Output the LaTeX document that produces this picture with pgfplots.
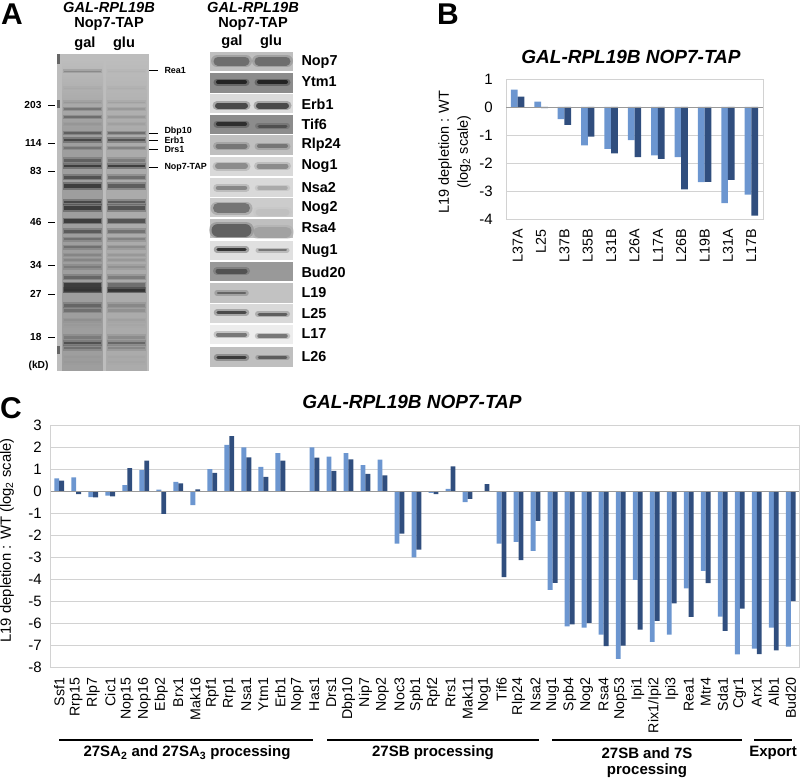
\documentclass[border=0pt]{standalone}
\usepackage{fontspec}
\setmainfont{Liberation Sans}
\usepackage{pgfplots}
\usepackage{pgfplotstable}
\pgfplotsset{compat=1.18}

\definecolor{lightbar}{HTML}{6C96D0}
\definecolor{darkbar}{HTML}{304E7E}
\definecolor{gridc}{HTML}{D2D2D2}

\newcommand\fs[1]{\fontsize{#1}{19}\selectfont}

% panel B, ribosomal proteins
\pgfplotstableread{
name a b
L37A 0.62 0.37
L25 0.19 -0.04
L37B -0.43 -0.64
L35B -1.37 -1.06
L31B -1.50 -1.66
L26A -1.18 -1.79
L17A -1.73 -1.85
L26B -1.79 -2.94
L19B -2.68 -2.67
L31A -3.43 -2.60
L17B -3.13 -3.88
}\tabB

% panel C, assembly factors
\pgfplotstableread{
name a b
Ssf1 0.58 0.48
Rrp15 0.63 -0.13
Rlp7 -0.27 -0.28
Cic1 -0.20 -0.24
Nop15 0.28 1.05
Nop16 0.95 1.38
Ebp2 0.07 -1.03
Brx1 0.42 0.35
Mak16 -0.63 0.08
Rpf1 1.00 0.83
Rrp1 2.10 2.50
Nsa1 1.98 1.53
Ytm1 1.10 0.65
Erb1 1.72 1.38
Nop7 0 0
Has1 1.98 1.52
Drs1 1.57 0.92
Dbp10 1.72 1.44
Nip7 1.18 0.79
Nop2 1.43 0.72
Noc3 -2.38 -1.92
Spb1 -3.00 -2.65
Rpf2 -0.08 -0.13
Rrs1 0.10 1.12
Mak11 -0.50 -0.35
Nog1 0 0.32
Tif6 -2.38 -3.90
Rlp24 -2.30 -3.13
Nsa2 -2.70 -1.35
Nug1 -4.47 -4.15
Spb4 -6.13 -6.04
Nog2 -6.18 -5.97
Rsa4 -6.50 -7.02
Nop53 -7.60 -7.00
Ipi1 -4.02 -6.28
Rix1/Ipi2 -6.83 -5.88
Ipi3 -6.50 -5.08
Rea1 -4.41 -5.70
Mtr4 -3.61 -4.17
Sda1 -5.68 -6.33
Cgr1 -7.40 -5.32
Arx1 -7.13 -7.39
Alb1 -6.18 -7.22
Bud20 -7.04 -4.98
}\tabC

% y, width, darkness in gal lane, darkness in glu lane
\newcommand\gband[4]{%
  \addplot[forget plot,draw=black!#3,opacity=.35,line width=#2pt+3pt] coordinates {(63,#1)(102,#1)};
  \addplot[forget plot,draw=black!#3,opacity=.7,line width=#2pt] coordinates {(64,#1)(101,#1)};
  \addplot[forget plot,draw=black!#4,opacity=.35,line width=#2pt+3pt] coordinates {(107,#1)(146,#1)};
  \addplot[forget plot,draw=black!#4,opacity=.7,line width=#2pt] coordinates {(108,#1)(145,#1)};
}
% top, bottom, background, then y/width/darkness for gal and for glu
\newcommand\blot[9]{%
  \addplot[forget plot,fill=black!#3,draw=none] coordinates {(210,#1)(293,#1)(293,#2)(210,#2)} -- cycle;
  \addplot[forget plot,draw=black!#6,opacity=.3,line width=#5pt+3pt,line cap=round] coordinates {(217,#4)(246,#4)};
  \addplot[forget plot,draw=black!#6,opacity=.8,line width=#5pt,line cap=round] coordinates {(218,#4)(245,#4)};
  \addplot[forget plot,draw=black!#9,opacity=.3,line width=#8pt+3pt,line cap=round] coordinates {(258,#7)(287,#7)};
  \addplot[forget plot,draw=black!#9,opacity=.8,line width=#8pt,line cap=round] coordinates {(259,#7)(286,#7)};
}

\begin{document}
\begin{tikzpicture}
\useasboundingbox (0,0) rectangle (800pt,779pt);

% everything of panel A and the loose text, in picture pixels
\begin{axis}[
    at={(0,0)}, anchor=south west,
    scale only axis, width=800pt, height=779pt,
    xmin=0, xmax=800, ymin=0, ymax=779, y dir=reverse,
    hide axis, clip=false,
    every node/.style={inner sep=0pt},
  ]
  % gel
  \addplot[forget plot,fill=black!26,draw=none] coordinates {(57,54)(149,54)(149,371)(57,371)} -- cycle;
  \addplot[forget plot,top color=black!26,bottom color=black!38,draw=none] coordinates {(62,60)(103,60)(103,130)(62,130)} -- cycle;
  \addplot[forget plot,fill=black!38,draw=none] coordinates {(62,130)(103,130)(103,371)(62,371)} -- cycle;
  \addplot[forget plot,top color=black!26,bottom color=black!33,draw=none] coordinates {(106,60)(147,60)(147,130)(106,130)} -- cycle;
  \addplot[forget plot,fill=black!33,draw=none] coordinates {(106,130)(147,130)(147,371)(106,371)} -- cycle;
  \addplot[forget plot,fill=black!60,draw=none] coordinates {(57,54)(59.5,54)(59.5,64)(57,64)} -- cycle;
  \addplot[forget plot,fill=black!60,draw=none] coordinates {(57,100)(59.5,100)(59.5,108)(57,108)} -- cycle;
  \addplot[forget plot,fill=black!60,draw=none] coordinates {(57,346)(59.5,346)(59.5,354)(57,354)} -- cycle;
  \gband{71}{0.7}{50}{30}
  \gband{88}{1}{34}{32}
  \gband{102}{1}{42}{38}
  \gband{109}{1.2}{58}{42}
  \gband{117}{1.5}{62}{42}
  \gband{124}{1.2}{42}{38}
  \gband{133}{1.6}{68}{62}
  \gband{140}{2.5}{80}{75}
  \gband{148}{1.5}{58}{52}
  \gband{160}{3}{68}{55}
  \gband{166}{2.5}{85}{85}
  \gband{177}{3}{75}{62}
  \gband{186}{4.5}{85}{70}
  \gband{202}{2.5}{80}{70}
  \gband{208}{4.5}{85}{75}
  \gband{221}{3.5}{85}{75}
  \gband{231}{3}{70}{60}
  \gband{239}{2}{60}{52}
  \gband{247}{2}{60}{48}
  \gband{255}{1.5}{50}{42}
  \gband{260}{1.5}{50}{42}
  \gband{267}{2.5}{55}{45}
  \gband{277}{3}{65}{55}
  \gband{287}{8}{85}{62}
  \gband{290}{3}{80}{85}
  \gband{305}{3}{65}{50}
  \gband{310}{3}{60}{45}
  \gband{320}{2}{45}{38}
  \gband{325}{2}{40}{35}
  \gband{337}{3}{55}{48}
  \gband{343}{2.5}{75}{65}
  \gband{348}{2.5}{60}{50}
  \gband{357}{2}{40}{35}
  \gband{362}{2}{40}{35}

  % size marks and gel callouts
  \foreach \lab/\yy in {203/105,114/143,83/171,46/222,34/265,27/294,18/337}{
    \edef\tmp{\noexpand\node[anchor=east,font=\noexpand\fs{10.2}\noexpand\bfseries] at (axis cs:45,\yy) {\lab};
      \noexpand\draw[black,line width=0.9pt] (axis cs:48,\yy) -- (axis cs:55,\yy);}
    \tmp
  }
  \node[anchor=east,font=\fs{10.2}\bfseries] at (axis cs:52,366) {(kD)};
  \foreach \lab/\yy/\ly in {Rea1/70.5/70,Dbp10/133/131,Erb1/140/140,Drs1/149/149,Nop7-TAP/167/167}{
    \edef\tmp{\noexpand\draw[black,line width=0.9pt] (axis cs:149,\yy) -- (axis cs:158,\yy);
      \noexpand\node[anchor=west,font=\noexpand\fs{8.9}\noexpand\bfseries] at (axis cs:161,\ly) {\lab};}
    \tmp
  }

  % western blots
  \blot{51.7}{70.7}{25}{61}{9}{62}{61}{9}{62}
  \blot{72.7}{92.7}{45}{82}{4}{92}{82}{4}{92}
  \blot{94}{113.3}{14}{105.5}{6}{80}{105.5}{6}{80}
  \blot{115}{134}{45}{124}{4}{88}{126}{3}{72}
  \blot{135.3}{154.7}{25}{146}{5}{58}{146}{4}{58}
  \blot{156.7}{176}{15}{166}{6}{50}{166}{5}{50}
  \blot{178.3}{196.7}{15}{188}{4.5}{52}{188}{3.5}{36}
  \blot{198.3}{217.3}{20}{208}{10}{60}{212}{7}{25}
  \blot{218.7}{238}{25}{230}{13}{68}{232}{11}{38}
  \blot{240.7}{260}{12}{249.5}{3.5}{90}{250}{2}{60}
  \blot{262}{281.3}{40}{271}{5}{72}{271}{0.1}{40}
  \blot{283.3}{302.7}{24}{293}{2.5}{66}{293}{0.1}{24}
  \blot{304}{323.3}{15}{312.5}{3.5}{80}{314}{3}{70}
  \blot{324.7}{344}{7}{334.5}{4}{60}{336}{3.5}{60}
  \blot{347.3}{366.7}{25}{357.5}{3.5}{85}{357.5}{2.5}{70}
  \foreach \lab/\yy in {Nop7/62,Ytm1/82,Erb1/104,Tif6/124,Rlp24/145,Nog1/166,Nsa2/188,Nog2/208,Rsa4/228,Nug1/251,Bud20/272,L19/293,L25/314,L17/334,L26/357}{
    \edef\tmp{\noexpand\node[anchor=west,font=\noexpand\fs{14.4}\noexpand\bfseries] at (axis cs:298,\yy) {\lab};}
    \tmp
  }

  % headers of panel A
  \node[font=\fs{14.6}\bfseries\itshape] at (axis cs:109,7) {GAL-RPL19B};
  \node[font=\fs{14.6}\bfseries] at (axis cs:109,24) {Nop7-TAP};
  \node[font=\fs{14.6}\bfseries] at (axis cs:85,44) {gal};
  \node[font=\fs{14.6}\bfseries] at (axis cs:124,44) {glu};
  \node[font=\fs{14.6}\bfseries\itshape] at (axis cs:253,7) {GAL-RPL19B};
  \node[font=\fs{14.6}\bfseries] at (axis cs:253,24) {Nop7-TAP};
  \node[font=\fs{14.6}\bfseries] at (axis cs:232,42) {gal};
  \node[font=\fs{14.6}\bfseries] at (axis cs:271,42) {glu};

  % panel letters
  \node[anchor=center,font=\fs{30}\bfseries] at (axis cs:12,14) {A};
  \node[anchor=center,font=\fs{30}\bfseries] at (axis cs:448,14) {B};
  \node[anchor=center,font=\fs{30}\bfseries] at (axis cs:11,408) {C};

  % titles
  \node[font=\fs{19}\bfseries\itshape] at (axis cs:631,57) {GAL-RPL19B NOP7-TAP};
  \node[font=\fs{19}\bfseries\itshape] at (axis cs:412,402) {GAL-RPL19B NOP7-TAP};

  % groups under panel C
  \draw[black,line width=1.3pt] (axis cs:59,740) -- (axis cs:313,740);
  \draw[black,line width=1.3pt] (axis cs:327,740) -- (axis cs:539,740);
  \draw[black,line width=1.3pt] (axis cs:552,740) -- (axis cs:742,740);
  \draw[black,line width=1.3pt] (axis cs:754,740) -- (axis cs:792,740);
  \node[font=\fs{15}\bfseries] at (axis cs:187,753) {27SA\textsubscript{2} and 27SA\textsubscript{3} processing};
  \node[font=\fs{15}\bfseries] at (axis cs:433,753) {27SB processing};
  \node[font=\fs{15}\bfseries] at (axis cs:647,753) {27SB and 7S};
  \node[font=\fs{15}\bfseries] at (axis cs:647,771) {processing};
  \node[font=\fs{15}\bfseries] at (axis cs:773,753) {Export};
\end{axis}

% panel B
\begin{axis}[
    at={(506pt,560pt)}, anchor=south west,
    scale only axis, width=257pt, height=140pt,
    ybar=0pt, bar width=6.7pt,
    xmin=-0.5, xmax=10.5, ymin=-4, ymax=1,
    xtick=data, xticklabels from table={\tabB}{name},
    ytick={-4,-3,-2,-1,0,1}, yticklabels={-4,-3,-2,-1,0,1},
    ymajorgrids, grid style={gridc,line width=0.8pt},
    major tick length=0pt,
    axis line style={gridc,line width=0.9pt},
    xticklabel style={yshift=-10pt,rotate=90,anchor=east,inner sep=0pt,font=\fs{14.3}},
    yticklabel style={anchor=east,inner sep=0pt,xshift=-13pt,font=\fs{15}},
    ylabel={L19 depletion : WT\\(log\textsubscript{2} scale)},
    every axis y label/.style={at={(axis description cs:0,0.5)},yshift=-3pt,xshift=-51.5pt,rotate=90,anchor=center,align=center,font=\fs{14.5}},
  ]
  \addplot[fill=lightbar,draw=none] table[x expr=\coordindex,y=a]{\tabB};
  \addplot[fill=darkbar,draw=none] table[x expr=\coordindex,y=b]{\tabB};
  \draw[black!40,line width=0.8pt] (axis cs:-0.5,0) -- (axis cs:10.5,0);
\end{axis}

% panel C
\begin{axis}[
    at={(50.7pt,111.3pt)}, anchor=south west,
    scale only axis, width=748.6pt, height=242.7pt,
    ybar=0pt, bar width=4.9pt,
    xmin=-0.5, xmax=43.5, ymin=-8, ymax=3,
    xtick=data, xticklabels from table={\tabC}{name},
    ytick={-8,-7,...,3}, yticklabels={-8,-7,-6,-5,-4,-3,-2,-1,0,1,2,3},
    ymajorgrids, grid style={gridc,line width=0.8pt},
    major tick length=0pt,
    axis line style={gridc,line width=0.9pt},
    xticklabel style={yshift=-10pt,rotate=90,anchor=east,inner sep=0pt,font=\fs{14.2}},
    yticklabel style={anchor=east,inner sep=0pt,xshift=-8.7pt,font=\fs{15}},
    ylabel={L19 depletion : WT (log\textsubscript{2} scale)},
    every axis y label/.style={at={(axis description cs:0,0.5)},yshift=6pt,xshift=-43.7pt,rotate=90,anchor=center,font=\fs{14.8}},
  ]
  \addplot[fill=lightbar,draw=none] table[x expr=\coordindex,y=a]{\tabC};
  \addplot[fill=darkbar,draw=none] table[x expr=\coordindex,y=b]{\tabC};
  \draw[black!40,line width=0.8pt] (axis cs:-0.5,0) -- (axis cs:43.5,0);
\end{axis}
\end{tikzpicture}
\end{document}
